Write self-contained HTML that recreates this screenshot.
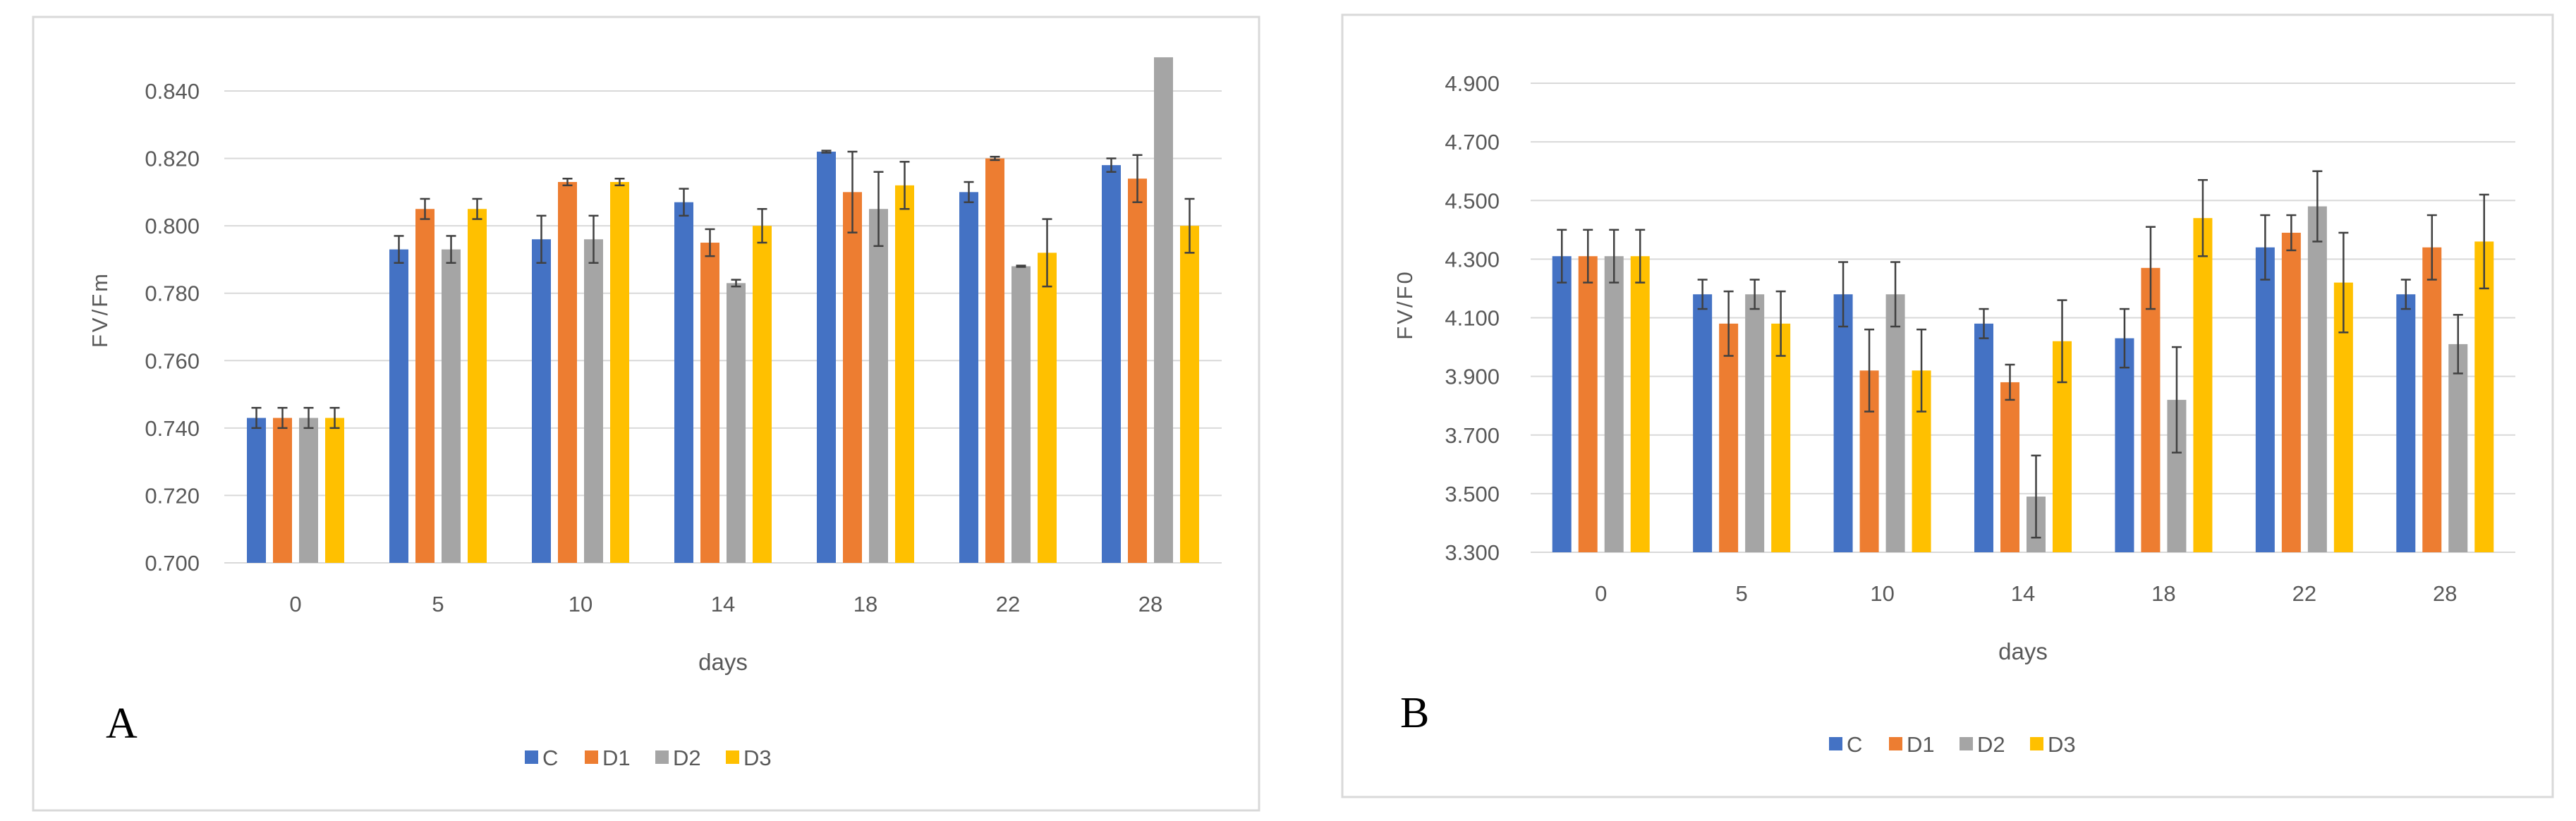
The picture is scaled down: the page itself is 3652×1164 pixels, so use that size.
<!DOCTYPE html>
<html><head><meta charset="utf-8">
<style>
html,body{margin:0;padding:0;background:#fff;}
svg{display:block;font-family:"Liberation Sans",sans-serif;}
</style></head>
<body>
<svg id="root" width="3652" height="1164" viewBox="0 0 3652 1164" xmlns="http://www.w3.org/2000/svg">
<rect x="0" y="0" width="3652" height="1164" fill="#fff"/>
</svg>
<script>
const categories = ["0","5","10","14","18","22","28"];
const seriesNames = ["C","D1","D2","D3"];
const colors = ["#4472C4","#ED7D31","#A5A5A5","#FFC000"];

const aC  = [0.743,0.793,0.796,0.807,0.822,0.810,0.818];
const aD1 = [0.743,0.805,0.813,0.795,0.810,0.820,0.814];
const aD2 = [0.743,0.793,0.796,0.783,0.805,0.788,0.860];
const aD3 = [0.743,0.805,0.813,0.800,0.812,0.792,0.800];
const aErrC  = [0.003,0.004,0.007,0.004,0.0003,0.003,0.002];
const aErrD1 = [0.003,0.003,0.001,0.004,0.012,0.0005,0.007];
const aErrD2 = [0.003,0.004,0.007,0.001,0.011,0.0002,0];
const aErrD3 = [0.003,0.003,0.001,0.005,0.007,0.010,0.008];
const aTicks = ["0.700","0.720","0.740","0.760","0.780","0.800","0.820","0.840"];

const bC  = [4.31,4.18,4.18,4.08,4.03,4.34,4.18];
const bD1 = [4.31,4.08,3.92,3.88,4.27,4.39,4.34];
const bD2 = [4.31,4.18,4.18,3.49,3.82,4.48,4.01];
const bD3 = [4.31,4.08,3.92,4.02,4.44,4.22,4.36];
const bErrC  = [0.09,0.05,0.11,0.05,0.10,0.11,0.05];
const bErrD1 = [0.09,0.11,0.14,0.06,0.14,0.06,0.11];
const bErrD2 = [0.09,0.05,0.11,0.14,0.18,0.12,0.10];
const bErrD3 = [0.09,0.11,0.14,0.14,0.13,0.17,0.16];
const bTicks = ["3.300","3.500","3.700","3.900","4.100","4.300","4.500","4.700","4.900"];

const NS="http://www.w3.org/2000/svg";
const root=document.getElementById('root');
function mk(tag,attrs,parent,text){const e=document.createElementNS(NS,tag);for(const k in attrs)e.setAttribute(k,attrs[k]);if(text!==undefined)e.textContent=text;parent.appendChild(e);return e;}

function chart(cfg){
  const g=mk('g',{},root);
  
  
  const fr=mk('rect',{x:cfg.fx,y:cfg.fy,width:cfg.fw,height:cfg.fh,fill:'#fff',stroke:'#d9d9d9','stroke-width':3},g);
  
  
  const y=v=>cfg.py1-(v-cfg.ymin)/(cfg.ymax-cfg.ymin)*(cfg.py1-cfg.py0);
  cfg.ticks.forEach(t=>{
    const v=parseFloat(t), yy=y(v);
    const ln=mk('line',{x1:cfg.px0,x2:cfg.px1,y1:yy,y2:yy,stroke:'#d9d9d9','stroke-width':2},g);
    
    
    const tx=mk('text',{x:cfg.labelX,y:yy+11,'text-anchor':'end','font-size':31,fill:'#595959'},g,t);
    
    
  });
  const cw=(cfg.px1-cfg.px0)/categories.length;
  const bw=27, gap=10, gw=4*bw+3*gap;
  categories.forEach((c,i)=>{
    const cx=cfg.px0+cw*(i+0.5);
    cfg.series.forEach((s,j)=>{
      const v=Math.min(s[i],cfg.clip), x=cx-gw/2+j*(bw+gap);
      const r=mk('rect',{x:x,y:y(v),width:bw,height:y(cfg.ymin)-y(v),fill:colors[j]},g);
      
      
      const e=cfg.errs[j][i];
      if(e>0 && s[i]<cfg.clip){
        const ex=x+bw/2, y0=y(s[i]+e), y1=y(s[i]-e);
        const eg=mk('g',{stroke:'#404040','stroke-width':2.5},g);
        
        
        mk('line',{x1:ex,x2:ex,y1:y0,y2:y1},eg);
        mk('line',{x1:ex-7,x2:ex+7,y1:y0,y2:y0},eg);
        mk('line',{x1:ex-7,x2:ex+7,y1:y1,y2:y1},eg);
      }
    });
    const tx=mk('text',{x:cx,y:cfg.xLabY,'text-anchor':'middle','font-size':31,fill:'#595959'},g,c);
    
    
  });
  const yt=mk('text',{x:cfg.ytX,y:cfg.ytY,'text-anchor':'middle','font-size':31,fill:'#595959','letter-spacing':3,transform:`rotate(-90 ${cfg.ytX} ${cfg.ytY})`},g,cfg.ytitle);
  
  
  const xt=mk('text',{x:(cfg.px0+cfg.px1)/2,y:cfg.daysY,'text-anchor':'middle','font-size':33,fill:'#595959'},g,'days');
  
  
  const pl=mk('text',{x:cfg.lettX,y:cfg.lettY,'font-size':62,fill:'#000','font-family':'Liberation Serif, serif'},g,cfg.letter);
  
  
  const lg=mk('g',{},g);
  
  
  const lx=[0,85,185,285], start=cfg.legCx-175;
  seriesNames.forEach((n,j)=>{
    const eg=mk('g',{},lg);
    
    
    mk('rect',{x:start+lx[j],y:cfg.legY-10,width:19,height:19,fill:colors[j]},eg);
    mk('text',{x:start+lx[j]+25,y:cfg.legY+11,'font-size':31,fill:'#595959'},eg,n);
  });
}

chart({name:'chart-a-fvfm',fx:47,fy:24,fw:1738,fh:1125,px0:318,px1:1732,py0:129,py1:798,ymin:0.700,ymax:0.840,clip:0.850,
  ticks:aTicks,series:[aC,aD1,aD2,aD3],errs:[aErrC,aErrD1,aErrD2,aErrD3],labelX:283,xLabY:867,ytitle:'FV/Fm',ytX:152,ytY:439,
  daysY:950,letter:'A',lettX:150,lettY:1046,legY:1074,legCx:919});
chart({name:'chart-b-fvf0',fx:1903,fy:21,fw:1716,fh:1109,px0:2170,px1:3566,py0:118,py1:783,ymin:3.300,ymax:4.900,clip:5.0,
  ticks:bTicks,series:[bC,bD1,bD2,bD3],errs:[bErrC,bErrD1,bErrD2,bErrD3],labelX:2126,xLabY:852,ytitle:'FV/F0',ytX:2002,ytY:432,
  daysY:935,letter:'B',lettX:1985,lettY:1031,legY:1055,legCx:2768});
</script>
</body></html>
